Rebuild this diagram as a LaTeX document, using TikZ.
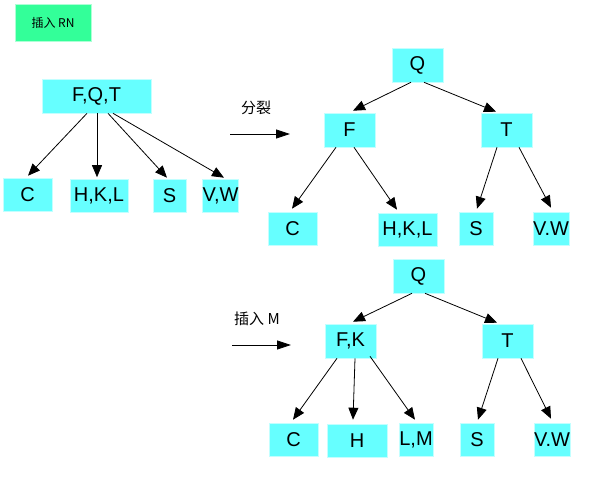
\documentclass[tikz,border=0pt]{standalone}
\usepackage{fontspec}
\setmainfont{Liberation Sans}
\newfontfamily\cjk{Noto Sans CJK SC}
\usetikzlibrary{arrows.meta,calc}
\definecolor{boxcyan}{RGB}{102,255,255}
\definecolor{boxgreen}{RGB}{51,255,153}
\begin{document}
\begin{tikzpicture}[x=1pt,y=-1pt,
  box/.style={fill=boxcyan,draw=boxcyan!40!white,line width=0.6pt,inner sep=0pt,font=\fontsize{20}{22}\selectfont},
  arr/.style={line width=0.8pt,-{Triangle[length=12pt,width=10pt]}},
  bigarr/.style={line width=0.8pt,-{Triangle[length=14pt,width=9pt]}},
  lab/.style={font=\fontsize{15}{17}\selectfont\cjk}]
\useasboundingbox (0,0) rectangle (609,496);
% title
\node[fill=boxgreen,draw=boxgreen!40!white,line width=0.6pt,minimum width=76pt,minimum height=37pt,inner sep=0pt,font=\fontsize{12}{14}\selectfont\cjk] (rn) at (53,22.5) {插入 RN};
% level 1
\node[box,minimum width=109pt,minimum height=34pt] (fqt) at (96.5,96) {F,Q,T};
\node[box,minimum width=49pt,minimum height=33pt] (c1) at (27.5,194.5) {C};
\node[box,minimum width=58pt,minimum height=33pt] (hkl1) at (99,195.5) {H,K,L};
\node[box,minimum width=33pt,minimum height=33pt] (s1) at (169.5,195.5) {S};
\node[box,minimum width=33pt,minimum height=33pt] (vw1) at (220.5,195.5) {V,W};
\draw[arr] ($(fqt.south)+(-9.5,0)$) -- ($(c1.north)+(0.5,-2)$);
\draw[arr] ($(fqt.south)+(0.5,0)$) -- ($(hkl1.north)+(-2,-1.5)$);
\draw[arr] ($(fqt.south)+(11.5,0)$) -- ($(s1.north)+(-2.5,-1)$);
\draw[arr] ($(fqt.south)+(16.5,0)$) -- ($(vw1.north)+(3.5,-1)$);
% split arrow
\node[lab] (split) at (256,108) {分裂};
\coordinate (a1s) at (230,134);
\coordinate (a1e) at (290,134);
\draw[bigarr] (a1s) -- (a1e);
% level 2
\node[box,minimum width=51pt,minimum height=34pt] (q2) at (417.5,65) {Q};
\node[box,minimum width=51pt,minimum height=34pt] (f2) at (349.5,130) {F};
\node[box,minimum width=51pt,minimum height=34pt] (t2) at (506.5,130) {T};
\node[box,minimum width=49pt,minimum height=33pt] (c2) at (292.5,228.5) {C};
\node[box,minimum width=59pt,minimum height=33pt] (hkl2) at (407.5,229.5) {H,K,L};
\node[box,minimum width=34pt,minimum height=33pt] (s2) at (476,228.5) {S};
\node[box,minimum width=34pt,minimum height=33pt] (vw2) at (551,228.5) {V.W};
\draw[arr] ($(q2.south)+(-6.5,0)$) -- ($(f2.north)+(3.5,-2)$);
\draw[arr] ($(q2.south)+(6.5,0)$) -- ($(t2.north)+(-10.5,-1)$);
\draw[arr] ($(f2.south)+(-13.5,0)$) -- ($(c2.north)+(-0.5,-3)$);
\draw[arr] ($(f2.south)+(4.5,0)$) -- ($(hkl2.north)+(-10.5,-3)$);
\draw[arr] ($(t2.south)+(-9.5,0)$) -- ($(s2.north)+(1,-3)$);
\draw[arr] ($(t2.south)+(12.5,0)$) -- ($(vw2.north)+(0,-4)$);
% insert M arrow
\node[lab] (insm) at (257,319) {插入 M};
\coordinate (a2s) at (232,345);
\coordinate (a2e) at (291,345);
\draw[bigarr] (a2s) -- (a2e);
% level 3
\node[box,minimum width=51pt,minimum height=34pt] (q3) at (418.5,276) {Q};
\node[box,minimum width=51pt,minimum height=34pt] (fk3) at (350.5,341) {F,K};
\node[box,minimum width=51pt,minimum height=34pt] (t3) at (507.5,341) {T};
\node[box,minimum width=49pt,minimum height=33pt] (c3) at (293.5,439.5) {C};
\node[box,minimum width=60pt,minimum height=33pt] (h3) at (357,440.5) {H};
\node[box,minimum width=34pt,minimum height=33pt] (lm3) at (416,439.5) {L,M};
\node[box,minimum width=34pt,minimum height=33pt] (s3) at (477,439.5) {S};
\node[box,minimum width=34pt,minimum height=33pt] (vw3) at (552,439.5) {V.W};
\draw[arr] ($(q3.south)+(-6.5,0)$) -- ($(fk3.north)+(2.5,-2)$);
\draw[arr] ($(q3.south)+(6.5,0)$) -- ($(t3.north)+(-10.5,-1)$);
\draw[arr] ($(fk3.south)+(-13.5,0)$) -- ($(c3.north)+(-0.5,-3)$);
\draw[arr] ($(fk3.south)+(4.5,0)$) -- ($(h3.north)+(-4,-4)$);
\draw[arr] ($(fk3.south)+(19.5,-2)$) -- ($(lm3.north)+(-1,-3)$);
\draw[arr] ($(t3.south)+(-9.5,0)$) -- ($(s3.north)+(1,-3)$);
\draw[arr] ($(t3.south)+(13.5,0)$) -- ($(vw3.north)+(-1,-4)$);
\end{tikzpicture}
\end{document}
